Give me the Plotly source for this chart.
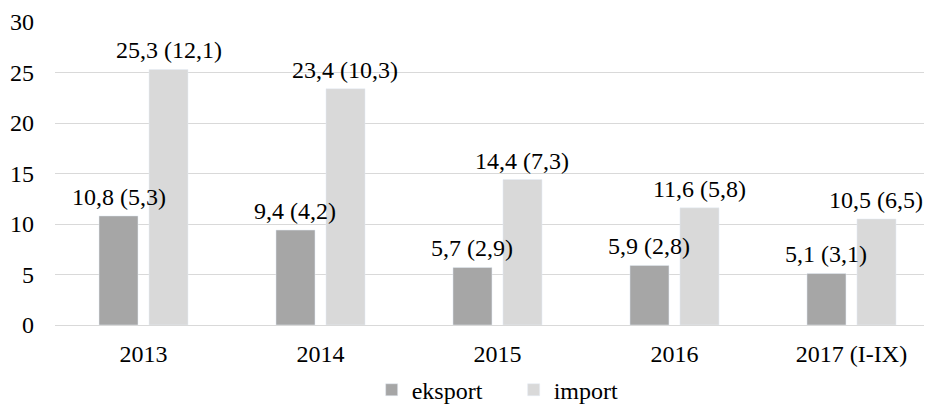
import plotly.graph_objects as go

categories = ["2013", "2014", "2015", "2016", "2017 (I-IX)"]
eksport = [10.8, 9.4, 5.7, 5.9, 5.1]
eksport_labels = ["10,8 (5,3)", "9,4 (4,2)", "5,7 (2,9)", "5,9 (2,8)", "5,1 (3,1)"]
importv = [25.3, 23.4, 14.4, 11.6, 10.5]
import_labels = ["25,3 (12,1)", "23,4 (10,3)", "14,4 (7,3)", "11,6 (5,8)", "10,5 (6,5)"]
y_ticks = [0, 5, 10, 15, 20, 25, 30]

FONT = "Liberation Serif"
TF = dict(size=24, color="#000000", family=FONT)

fig = go.Figure()
fig.add_trace(go.Bar(name="eksport", x=categories, y=eksport, marker_color="#A6A6A6"))
fig.add_trace(go.Bar(name="import", x=categories, y=importv, marker_color="#D9D9D9"))

# value labels drawn on top of all bars, centred over each bar of the group
for vals, labels, shift in ((eksport, eksport_labels, -25), (importv, import_labels, 25)):
    for i, (v, t) in enumerate(zip(vals, labels)):
        fig.add_annotation(x=i, y=v, text=t, showarrow=False, xref="x", yref="y",
                           xanchor="center", yanchor="bottom", xshift=shift, yshift=4,
                           font=TF)

fig.update_layout(
    width=924, height=407,
    margin=dict(l=47, r=0, t=14, b=90, autoexpand=False),
    barmode="group", bargap=0.435, bargroupgap=0.22,
    plot_bgcolor="white", paper_bgcolor="white",
    font=TF,
    showlegend=True,
    legend=dict(orientation="h", x=0.523, xanchor="center", y=-0.215, yanchor="middle",
                font=TF, itemwidth=30, traceorder="normal",
                entrywidth=97, entrywidthmode="pixels"),
)
fig.update_xaxes(type="category", range=[-0.5, 4.455], showline=False, showgrid=False,
                 ticks="", tickfont=TF, automargin=False, ticklabelstandoff=12)
fig.update_yaxes(range=[0, 30], tickvals=y_ticks, showgrid=True, gridcolor="#D9D9D9",
                 gridwidth=1, zeroline=True, zerolinecolor="#D9D9D9", zerolinewidth=1,
                 ticks="", ticklabelstandoff=20, tickfont=TF, automargin=False)

fig.write_html("out.html")
